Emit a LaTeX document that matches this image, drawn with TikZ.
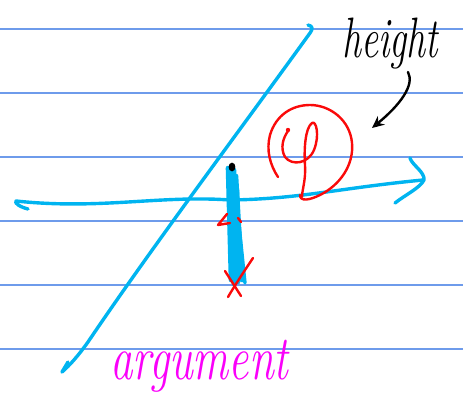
\documentclass[tikz,border=0pt]{standalone}
\usepackage{fontspec}
\usetikzlibrary{arrows.meta}
\definecolor{rule}{RGB}{110,155,235}
\definecolor{pen}{RGB}{0,180,240}
\definecolor{redpen}{RGB}{250,10,10}
\definecolor{magpen}{RGB}{250,0,250}
\tikzset{
  ruled/.style={rule, line width=1.2pt},
  cyanink/.style={pen, line width=3.4pt, line cap=round, line join=round},
  thickink/.style={pen, line width=4.6pt, line cap=round, line join=round},
  redink/.style={redpen, line width=2.4pt, line cap=round, line join=round},
  blackink/.style={black, line width=2.4pt, line cap=round, line join=round},
}
\begin{document}
\begin{tikzpicture}[x=1pt,y=-1pt]
\useasboundingbox (0,0) rectangle (463,396);
% ruled lines
\foreach \yy in {29,93,157,221,285,349} \draw[ruled] (0,\yy) -- (463,\yy);
% diagonal line
\draw[cyanink] (308,25) .. controls (313,26) and (313,29) .. (310,33)
  .. controls (240,130) and (150,250) .. (88,342)
  .. controls (78,356) and (70,365) .. (62,372);
\draw[cyanink] (62,372) -- (68,362);
% horizontal axis with arrow
\draw[cyanink] (28,209) .. controls (20,207) and (14,203) .. (16,201)
  .. controls (100,210) and (160,195) .. (230,200)
  .. controls (300,199) and (340,188) .. (423,180);
\draw[cyanink] (410,158) .. controls (412,165) and (425,172) .. (424,180)
  .. controls (420,188) and (405,195) .. (395,203);
% vertical thick stroke
\draw[thickink] (228,168) -- (231,280);
\draw[thickink] (231,168) -- (234,282);
\draw[thickink] (234,170) -- (238,280);
\draw[thickink] (236,176) -- (242,280);
\draw[cyanink] (235,185) -- (245,283);
\draw[thickink] (230,200) -- (234,284);
\draw[thickink] (237,190) -- (238,282);
% black dot
\fill[black] (232,167) ellipse (3.4 and 4.4);
% red marks below axis
\draw[redink] (227,214) -- (218,225) -- (230,223);
\draw[redink] (238,218) -- (241,222);
\draw[redink] (225,271) -- (241,296);
\draw[redink] (253,258) .. controls (245,270) and (235,285) .. (228,297);
% red circle
\draw[redink] (278,177) .. controls (270,165) and (266,150) .. (270,135)
  .. controls (276,115) and (292,105) .. (310,105)
  .. controls (330,105) and (350,120) .. (352,143)
  .. controls (354,165) and (340,185) .. (320,195)
  .. controls (310,200) and (300,202) .. (300,195);
% phi
\draw[redink] (288,131) .. controls (283,138) and (280,148) .. (285,157)
  .. controls (292,166) and (308,164) .. (314,150)
  .. controls (320,135) and (316,120) .. (312,123)
  .. controls (305,128) and (304,150) .. (305,165)
  .. controls (306,180) and (302,190) .. (302,197);
\fill[redpen] (288,130) circle (2.2);
% height label and arrow
\node[anchor=west, inner sep=0pt, font=\fontsize{38}{38}\selectfont\itshape] (height) at (342,44) {\scalebox{1}[1.5]{height}};
\draw[blackink, -{Stealth[length=12pt,width=11pt,open]}] (408,72) .. controls (415,85) and (400,105) .. (372,128);
% argument label
\node[anchor=west, inner sep=0pt, magpen, font=\fontsize{45}{45}\selectfont\itshape] (argument) at (110,366) {\scalebox{1}[1.4]{argument}};
\end{tikzpicture}
\end{document}
